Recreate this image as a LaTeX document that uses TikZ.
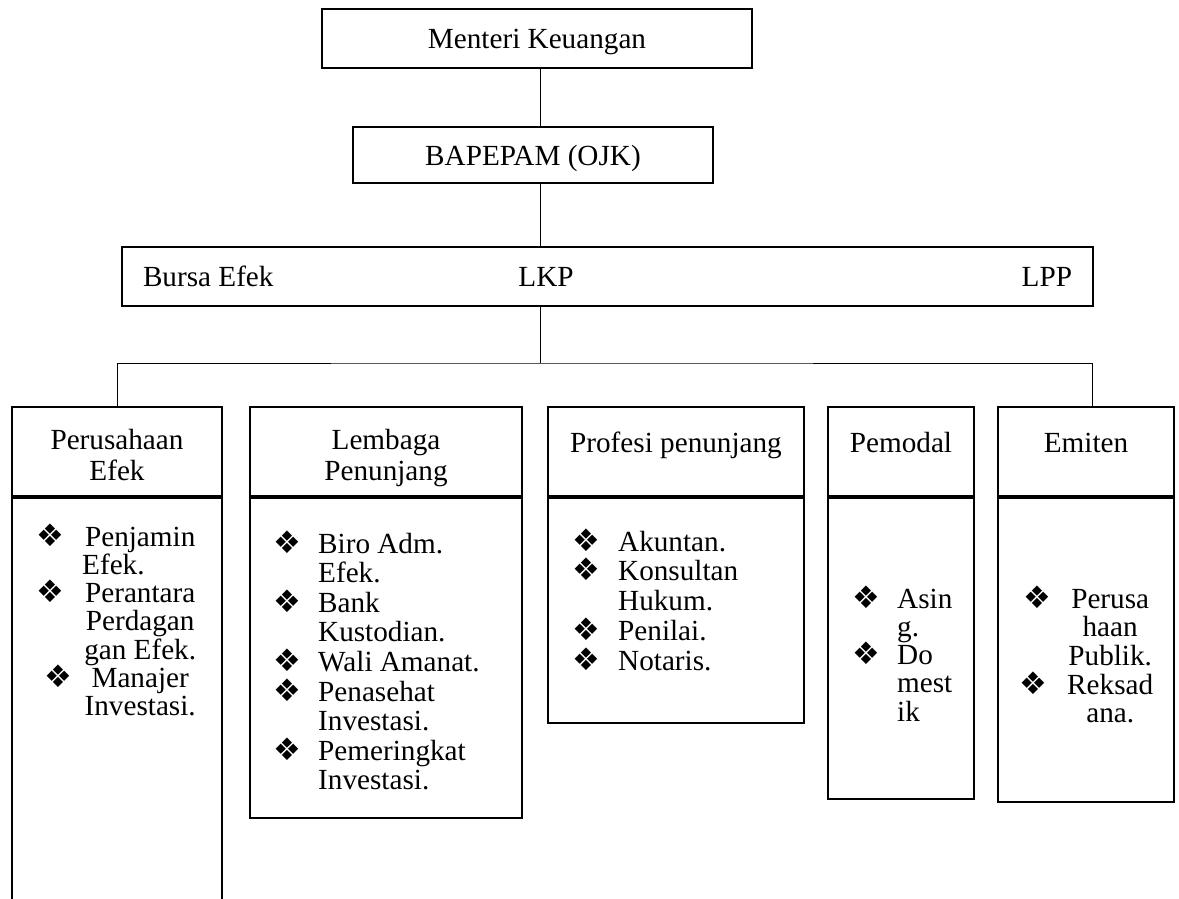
\documentclass[tikz,border=0pt]{standalone}
\usepackage{fontspec}
\setmainfont{Liberation Serif}
\newfontfamily\dingfont{DejaVu Sans}
\usepackage{array}
\usepackage{tikz}
\usetikzlibrary{positioning,calc}
\definecolor{orgline}{RGB}{0,0,0}
\newcommand{\bul}{\smash{\dingfont\fontsize{31}{31}\selectfont ❖}}
\newcolumntype{C}[1]{>{\centering\arraybackslash}p{#1}}
\newcolumntype{B}[1]{>{\raggedright\arraybackslash}p{#1}}

\tikzset{
  topbox/.style={draw=orgline, line width=2.2pt, inner sep=0pt, outer sep=0pt, text height=20pt, text depth=0pt},
  unitbox/.style={draw=orgline, line width=2.2pt, inner sep=0pt, outer sep=0pt, anchor=north west},
  link/.style={draw=orgline, line width=1pt},
  hdtext/.style={anchor=base, inner sep=0pt},
  itemlist/.style={anchor=base west, inner sep=0pt, font=\fontsize{29.2}{#1}\selectfont}
}

\begin{document}
\begin{tikzpicture}[x=1pt, y=-1pt, font=\fontsize{29.2}{31}\selectfont]
        \useasboundingbox (0,0) rectangle (1179,899);
        \clip (0,0) rectangle (1179,899);
        % top of the chart
        \node[topbox, minimum width=430pt, minimum height=59pt] (mk) at (537,38.5) {Menteri Keuangan};
        \node[topbox, minimum width=360pt, minimum height=56pt] (bp) at (533,155) {BAPEPAM (OJK)};
        \node[topbox, minimum width=971pt, minimum height=59pt] (bar) at (607.5,276.5)
            {\makebox[929pt]{\makebox[403pt][l]{Bursa Efek}\makebox[0pt]{LKP}\hfill LPP}};
        % header boxes
        \node[unitbox, minimum width=210pt, minimum height=89pt] (h1) at (12,407) {};
        \node[unitbox, minimum width=272pt, minimum height=89pt] (h2) at (250,407) {};
        \node[unitbox, minimum width=256pt, minimum height=89pt] (h3) at (548,407) {};
        \node[unitbox, minimum width=146pt, minimum height=89pt] (h4) at (828,407) {};
        \node[unitbox, minimum width=176pt, minimum height=89pt] (h5) at (998,407) {};
        \node[hdtext] (t1) at ([yshift=-42pt]h1.north) {\begin{tabular}[t]{@{}c@{}}Perusahaan\\Efek\end{tabular}};
        \node[hdtext] (t2) at ([yshift=-42pt]h2.north) {\begin{tabular}[t]{@{}c@{}}Lembaga\\Penunjang\end{tabular}};
        \node[hdtext] (t3) at ([yshift=-45pt]h3.north) {Profesi penunjang};
        \node[hdtext] (t4) at ([yshift=-45pt]h4.north) {Pemodal};
        \node[hdtext] (t5) at ([yshift=-45pt]h5.north) {Emiten};
        % body boxes
        \node[unitbox, minimum width=210pt, minimum height=420pt] (b1) at (12,498) {};
        \node[unitbox, minimum width=272pt, minimum height=320pt] (b2) at (250,498) {};
        \node[unitbox, minimum width=256pt, minimum height=225pt] (b3) at (548,498) {};
        \node[unitbox, minimum width=146pt, minimum height=301pt] (b4) at (828,498) {};
        \node[unitbox, minimum width=176pt, minimum height=304pt] (b5) at (998,498) {};
        \node[itemlist=27.6] (l1) at (30,546) {\begin{tabular}[t]{@{}C{40pt}@{\hspace{12pt}}C{116pt}@{}}
            \bul & Penjamin\\ & Efek.\hfill\null\\ \bul & Perantara\\ & Perdagan\\ & gan Efek.\\
            \hspace*{14pt}\bul & Manajer\\ & Investasi.\end{tabular}};
        \node[itemlist=29.6] (l2) at (273,553) {\begin{tabular}[t]{@{}B{45pt}@{}l@{}}
            \bul & Biro Adm.\\ & Efek.\\ \bul & Bank\\ & Kustodian.\\ \bul & Wali Amanat.\\
            \bul & Penasehat\\ & Investasi.\\ \bul & Pemeringkat\\ & Investasi.\end{tabular}};
        \node[itemlist=29.8] (l3) at (572,551) {\begin{tabular}[t]{@{}B{46pt}@{}l@{}}
            \bul & Akuntan.\\ \bul & Konsultan\\ & Hukum.\\ \bul & Penilai.\\ \bul & Notaris.\end{tabular}};
        \node[itemlist=28.2] (l4) at (852,608) {\begin{tabular}[t]{@{}B{45pt}@{}l@{}}
            \bul & Asin\\ & g.\\ \bul & Do\\ & mest\\ & ik\end{tabular}};
        \node[itemlist=28.2] (l5) at (1017,608) {\begin{tabular}[t]{@{}C{40pt}@{\hspace{7pt}}C{92pt}@{}}
            \bul & Perusa\\ & haan\\ & Publik.\\ \bul\hspace*{8pt} & Reksad\\ & ana.\end{tabular}};
        % connectors
        \coordinate (axis) at (540,0);
        \coordinate (bus) at (540,363);
        \draw[link] (mk.south -| axis) -- (bp.north -| axis);
        \draw[link] (bp.south -| axis) -- (bar.north -| axis);
        \draw[link] (bar.south -| axis) -- (bus);
        \draw[link] (h1.north) |- (bus) -| ([xshift=6pt]h5.north);
    \end{tikzpicture}
\end{document}
